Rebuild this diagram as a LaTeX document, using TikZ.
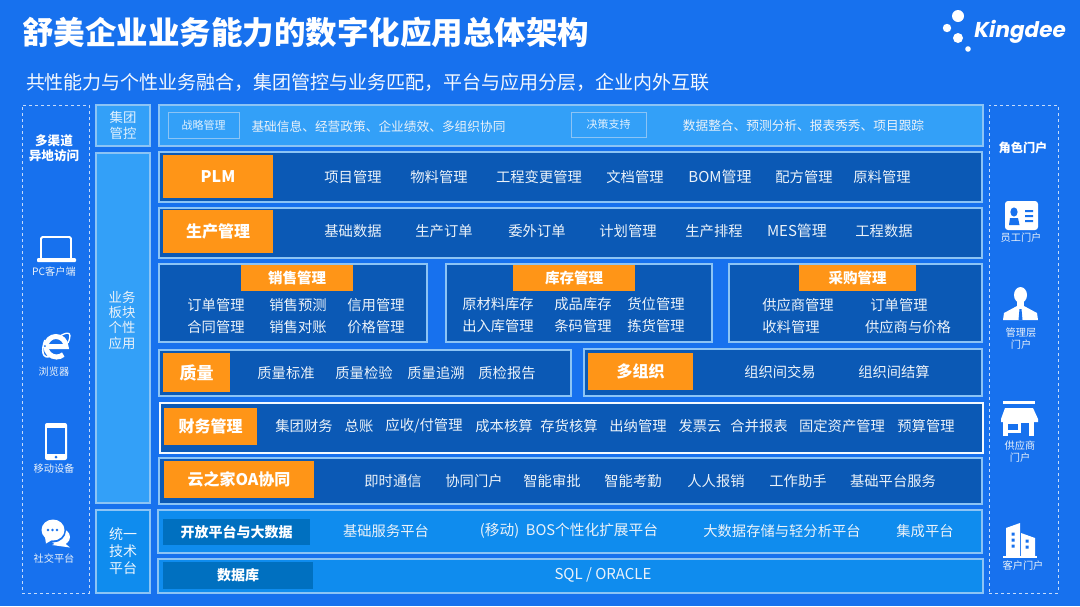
\documentclass[tikz,border=0pt]{standalone}
\usepackage{fontspec}
\setmainfont{Noto Sans CJK SC}
\newfontfamily\logofont{Poppins}
\definecolor{pagebg}{HTML}{1771EE}
\definecolor{lightbar}{HTML}{33A0F8}
\definecolor{darkbar}{HTML}{0B59B5}
\definecolor{techbar}{HTML}{0F8CEE}
\definecolor{techhead}{HTML}{0070C0}
\definecolor{headorange}{HTML}{FF9517}
\definecolor{edgeblue}{HTML}{8CC4F5}
\begin{document}
\begin{tikzpicture}[x=1pt, y=-1pt,
    box/.style={draw=edgeblue, line width=1.2pt, inner sep=0pt},
    sidebox/.style={draw=white!75!pagebg, dashed, line width=0.7pt, inner sep=0pt},
    dark/.style={box, fill=darkbar},
    group/.style={box, fill=lightbar},
    tech/.style={box, fill=techbar},
    head/.style={fill=headorange, inner sep=0pt, text=white, font=\fontsize{16}{18}\selectfont\bfseries},
    subhead/.style={head, font=\fontsize{14.5}{17}\selectfont\bfseries},
    techtag/.style={fill=techhead, inner sep=0pt, text=white, font=\fontsize{14}{16}\selectfont\bfseries},
    tag/.style={draw=edgeblue, line width=0.8pt, inner sep=0pt, text=white!85!lightbar, font=\fontsize{11}{13}\selectfont},
    item/.style={text=white!92!darkbar, inner sep=0pt, font=\fontsize{14.3}{16}\selectfont},
    latin/.style={item, font=\fontsize{15}{16}\selectfont},
    note/.style={item, font=\fontsize{12.7}{14}\selectfont},
    side/.style={item, align=center, font=\fontsize{13.4}{15.3}\selectfont},
    port/.style={item, align=center, font=\fontsize{10.2}{12.6}\selectfont},
    porthead/.style={item, align=center, text=white, font=\fontsize{12.6}{15}\selectfont\bfseries}
]
\node[fill=pagebg, minimum width=1080pt, minimum height=606pt, inner sep=0pt] (page) at (540,303) {};
\useasboundingbox (0,0) rectangle (1080,606);

% titles and logo
\node[text=white, inner sep=0pt, font=\fontsize{31.5}{34}\selectfont\bfseries] (title) at (306,32) {舒美企业业务能力的数字化应用总体架构};
\node[text=white!95!pagebg, inner sep=0pt, font=\fontsize{19}{22}\selectfont] (subtitle) at (368,82) {共性能力与个性业务融合，集团管控与业务匹配，平台与应用分层，企业内外互联};
\fill[white] (958,16) circle (6pt) (947,28) circle (4.2pt) (958,38) circle (5pt) (968,49) circle (2.8pt);
\node[text=white, inner sep=0pt, font=\logofont\fontsize{21.5}{25}\selectfont\bfseries\itshape] (kingdee) at (1020,32) {Kingdee};

% side columns
\node[sidebox, minimum width=67pt, minimum height=488pt] (channels) at (55.5,349) {};
\node[sidebox, minimum width=69pt, minimum height=488pt] (roles) at (1023.5,349) {};
\node[group, minimum width=54pt, minimum height=41pt, text=white!85!lightbar, align=center, font=\fontsize{13.4}{15.3}\selectfont] (control) at (123,125.5) {集团\\管控};
\node[group, minimum width=54pt, minimum height=350pt] (apps) at (123,328) {};
\node[side] (appstext) at (122,320) {业务\\板块\\个性\\应用};
\node[tech, minimum width=54pt, minimum height=83pt, text=white!92!techbar, align=center, font=\fontsize{14}{17}\selectfont] (platform) at (123,551.5) {统一\\技术\\平台};

% group control row
\node[group, minimum width=824pt, minimum height=41pt] (controlrow) at (571,125.5) {};
\node[tag, minimum width=71pt, minimum height=26pt] (strategy) at (203.5,125) {战略管理};
\node[note] (strategytext) at (378.5,126.5) {基础信息、经营政策、企业绩效、多组织协同};
\node[tag, minimum width=75pt, minimum height=25pt] (decision) at (608.5,124.5) {决策支持};
\node[note] (decisiontext) at (803.5,125.5) {数据整合、预测分析、报表秀秀、项目跟踪};

% PLM
\node[dark, minimum width=823pt, minimum height=50pt] (plmrow) at (570.5,177) {};
\node[head, minimum width=110pt, minimum height=43pt] (plm) at (218,176.5) {PLM};
\node[item] (plma) at (353,177) {项目管理};
\node[item] (plmb) at (439,177) {物料管理};
\node[item] (plmc) at (539,177) {工程变更管理};
\node[item] (plmd) at (635,177) {文档管理};
\node[latin] (plme) at (720,177) {BOM管理};
\node[item] (plmf) at (804,177) {配方管理};
\node[item] (plmg) at (882,177) {原料管理};

% production
\node[dark, minimum width=823pt, minimum height=50pt] (prodrow) at (570.5,233) {};
\node[head, minimum width=110pt, minimum height=43pt] (prod) at (218,231.5) {生产管理};
\node[item] (proda) at (353,231) {基础数据};
\node[item] (prodb) at (444,231) {生产订单};
\node[item] (prodc) at (537,231) {委外订单};
\node[item] (prodd) at (628,231) {计划管理};
\node[item] (prode) at (714,231) {生产排程};
\node[latin] (prodf) at (797,231) {MES管理};
\node[item] (prodg) at (884,231) {工程数据};

% sales, stock, purchasing
\node[dark, minimum width=268pt, minimum height=78pt] (salesbox) at (293,303) {};
\node[subhead, minimum width=112pt, minimum height=26pt] (sales) at (297,278) {销售管理};
\node[item] (salesa) at (216,305) {订单管理};
\node[item] (salesb) at (298,305) {销售预测};
\node[item] (salesc) at (376,305) {信用管理};
\node[item] (salesd) at (216,327) {合同管理};
\node[item] (salese) at (298,327) {销售对账};
\node[item] (salesf) at (376,327) {价格管理};
\node[dark, minimum width=266pt, minimum height=78pt] (stockbox) at (579,303) {};
\node[subhead, minimum width=122pt, minimum height=26pt] (stock) at (574,278) {库存管理};
\node[item] (stocka) at (498,304) {原材料库存};
\node[item] (stockb) at (583,304) {成品库存};
\node[item] (stockc) at (656,304) {货位管理};
\node[item] (stockd) at (498,326) {出入库管理};
\node[item] (stocke) at (583,326) {条码管理};
\node[item] (stockf) at (656,326) {拣货管理};
\node[dark, minimum width=253pt, minimum height=78pt] (buybox) at (855.5,303) {};
\node[subhead, minimum width=117pt, minimum height=26pt] (buy) at (857.5,278) {采购管理};
\node[item] (buya) at (798,305) {供应商管理};
\node[item] (buyb) at (899,305) {订单管理};
\node[item] (buyc) at (791,327) {收料管理};
\node[item] (buyd) at (908,327) {供应商与价格};

% quality, multi-org
\node[dark, minimum width=412pt, minimum height=46pt] (qualrow) at (365,373) {};
\node[head, font=\fontsize{17}{19}\selectfont\bfseries, minimum width=67pt, minimum height=39pt] (qual) at (196.5,372.5) {质量};
\node[item] (quala) at (286,373) {质量标准};
\node[item] (qualb) at (364,373) {质量检验};
\node[item] (qualc) at (436,373) {质量追溯};
\node[item] (quald) at (507,373) {质检报告};
\node[dark, minimum width=398pt, minimum height=47pt] (orgrow) at (783,372.5) {};
\node[head, minimum width=105pt, minimum height=37pt] (org) at (640.5,371.5) {多组织};
\node[item] (orga) at (780,372) {组织间交易};
\node[item] (orgb) at (894,372) {组织间结算};

% finance
\node[dark, draw=white!90!edgeblue, minimum width=823pt, minimum height=50pt] (finrow) at (571.5,428) {};
\node[head, minimum width=93pt, minimum height=37pt] (fin) at (210.5,426.5) {财务管理};
\node[item] (fina) at (304,426) {集团财务};
\node[item] (finb) at (359,426) {总账};
\node[item] (finc) at (424,426) {应收/付管理};
\node[item] (find) at (504,426) {成本核算};
\node[item] (fine) at (569,426) {存货核算};
\node[item] (finf) at (638,426) {出纳管理};
\node[item] (fing) at (700,426) {发票云};
\node[item] (finh) at (759,426) {合并报表};
\node[item] (fini) at (842,426) {固定资产管理};
\node[item] (finj) at (926,426) {预算管理};

% OA
\node[dark, minimum width=823pt, minimum height=46pt] (oarow) at (570.5,481) {};
\node[head, minimum width=150pt, minimum height=37pt] (oa) at (239,479.5) {云之家OA协同};
\node[item] (oab) at (393,481) {即时通信};
\node[item] (oac) at (474,481) {协同门户};
\node[item] (oad) at (552,481) {智能审批};
\node[item] (oae) at (633,481) {智能考勤};
\node[item] (oaf) at (716,481) {人人报销};
\node[item] (oag) at (798,481) {工作助手};
\node[item] (oah) at (893,481) {基础平台服务};

% platform rows
\node[tech, minimum width=824pt, minimum height=43pt] (openrow) at (570,531.5) {};
\node[techtag, minimum width=147pt, minimum height=26pt] (open) at (236.5,532) {开放平台与大数据};
\node[item] (opena) at (386,531) {基础服务平台};
\node[item, font=\fontsize{14.7}{16}\selectfont] (openb) at (569,531) {(移动)\ \ BOS个性化扩展平台};
\node[item] (openc) at (782,531) {大数据存储与轻分析平台};
\node[item] (opend) at (925,531) {集成平台};
\node[tech, minimum width=825pt, minimum height=34pt] (dbrow) at (570.5,576) {};
\node[techtag, minimum width=150pt, minimum height=27pt] (db) at (238,575.5) {数据库};
\node[latin] (dba) at (603,575) {SQL / ORACLE};

% left column
\node[porthead] (channeltext) at (54,148.5) {多渠道\\异地访问};
\node[port] (pc) at (54,272) {PC客户端};
\node[port] (browser) at (54,372) {浏览器};
\node[port] (mobile) at (54,469) {移动设备};
\node[port] (social) at (54,559) {社交平台};
% laptop
\draw[white, line width=1.8pt, rounded corners=1.5pt] (41,258) -- (41,237) -- (71,237) -- (71,258);
\fill[white, rounded corners=1pt] (37,258) rectangle (76,262);
% browser
\draw[white, line width=5pt] (46,346.5) -- (66,346.5) arc (0:175:10pt);
\draw[white, line width=5pt] (46,346.5) arc (180:310:10.5pt);
\draw[white, line width=1.3pt] (60,336) .. controls (70,330) and (72,334) .. (68,343);
\draw[white, line width=1.6pt] (45,340) .. controls (41,350) and (42,360) .. (51,356);
% phone
\fill[white, rounded corners=2pt] (45,423) rectangle (67,460);
\fill[pagebg] (46.8,428) rectangle (65.2,454);
\fill[pagebg] (56,457) circle (1.5pt);
% chat
\fill[white] (60,537) ellipse (10pt and 8.5pt);
\fill[white] (62,541) -- (70,547.5) -- (52,545) -- cycle;
\fill[pagebg] (53,530.5) ellipse (13pt and 12pt);
\fill[pagebg] (44,538) -- (52,543) -- (45,546) -- cycle;
\fill[white] (53,530) ellipse (11.5pt and 10.5pt);
\fill[white] (45,537) -- (52,540) -- (46,543.5) -- cycle;
\fill[pagebg] (48,530) circle (1.4pt) (52.5,530) circle (1.4pt) (57,530) circle (1.4pt);

% right column
\node[porthead, font=\fontsize{12.2}{15}\selectfont\bfseries] (roletext) at (1023,148) {角色门户};
\node[port] (staff) at (1021,238) {员工门户};
\node[port] (manager) at (1021,338.5) {管理层\\门户};
\node[port] (supplier) at (1020,451.5) {供应商\\门户};
\node[port] (client) at (1023,566) {客户门户};
% staff card
\fill[white, rounded corners=3pt] (1005,201) rectangle (1038,230);
\fill[pagebg] (1014,212) ellipse (3.6pt and 4.6pt);
\fill[pagebg] (1009,225) -- (1010,218) -- (1018,218) -- (1019.5,225) -- cycle;
\fill[pagebg] (1025,210) rectangle (1033,212) (1025,215) rectangle (1033,217) (1025,220) rectangle (1033,222);
% manager
\fill[white] (1020.5,295) ellipse (6.5pt and 8pt);
\fill[white] (1017,300) rectangle (1024,308);
\fill[white] (1003,320) -- (1004,313) -- (1017,306) -- (1024,306) -- (1037,313) -- (1038,320) -- cycle;
\fill[pagebg] (1019.5,309) -- (1021.5,309) -- (1022.5,320) -- (1018.5,320) -- cycle;
% store
\fill[white] (1003,401) rectangle (1035,404);
\fill[white] (1005,408) -- (1033,408) -- (1038,419) -- (1038,422) -- (1001,422) -- (1001,419) -- cycle;
\fill[white] (1003,422) rectangle (1034,436);
\fill[pagebg] (1007.5,423.5) rectangle (1018,429.5);
\fill[pagebg] (1007.5,433) rectangle (1029,436);
\fill[pagebg] (1021,423) rectangle (1029,436);
% building
\fill[white] (1006,528) -- (1020,523) -- (1020,557) -- (1006,557) -- cycle;
\fill[white] (1021,533) -- (1035,538) -- (1035,557) -- (1021,557) -- cycle;
\fill[white] (1003,556) rectangle (1037,558);
\fill[pagebg] (1011.5,532.5) rectangle (1014.5,535.5) (1011.5,538.5) rectangle (1014.5,541.5) (1011.5,544.5) rectangle (1014.5,547.5);
\fill[pagebg] (1025.5,539.5) rectangle (1028.5,542.5) (1025.5,545.5) rectangle (1028.5,548.5);
\end{tikzpicture}
\end{document}
